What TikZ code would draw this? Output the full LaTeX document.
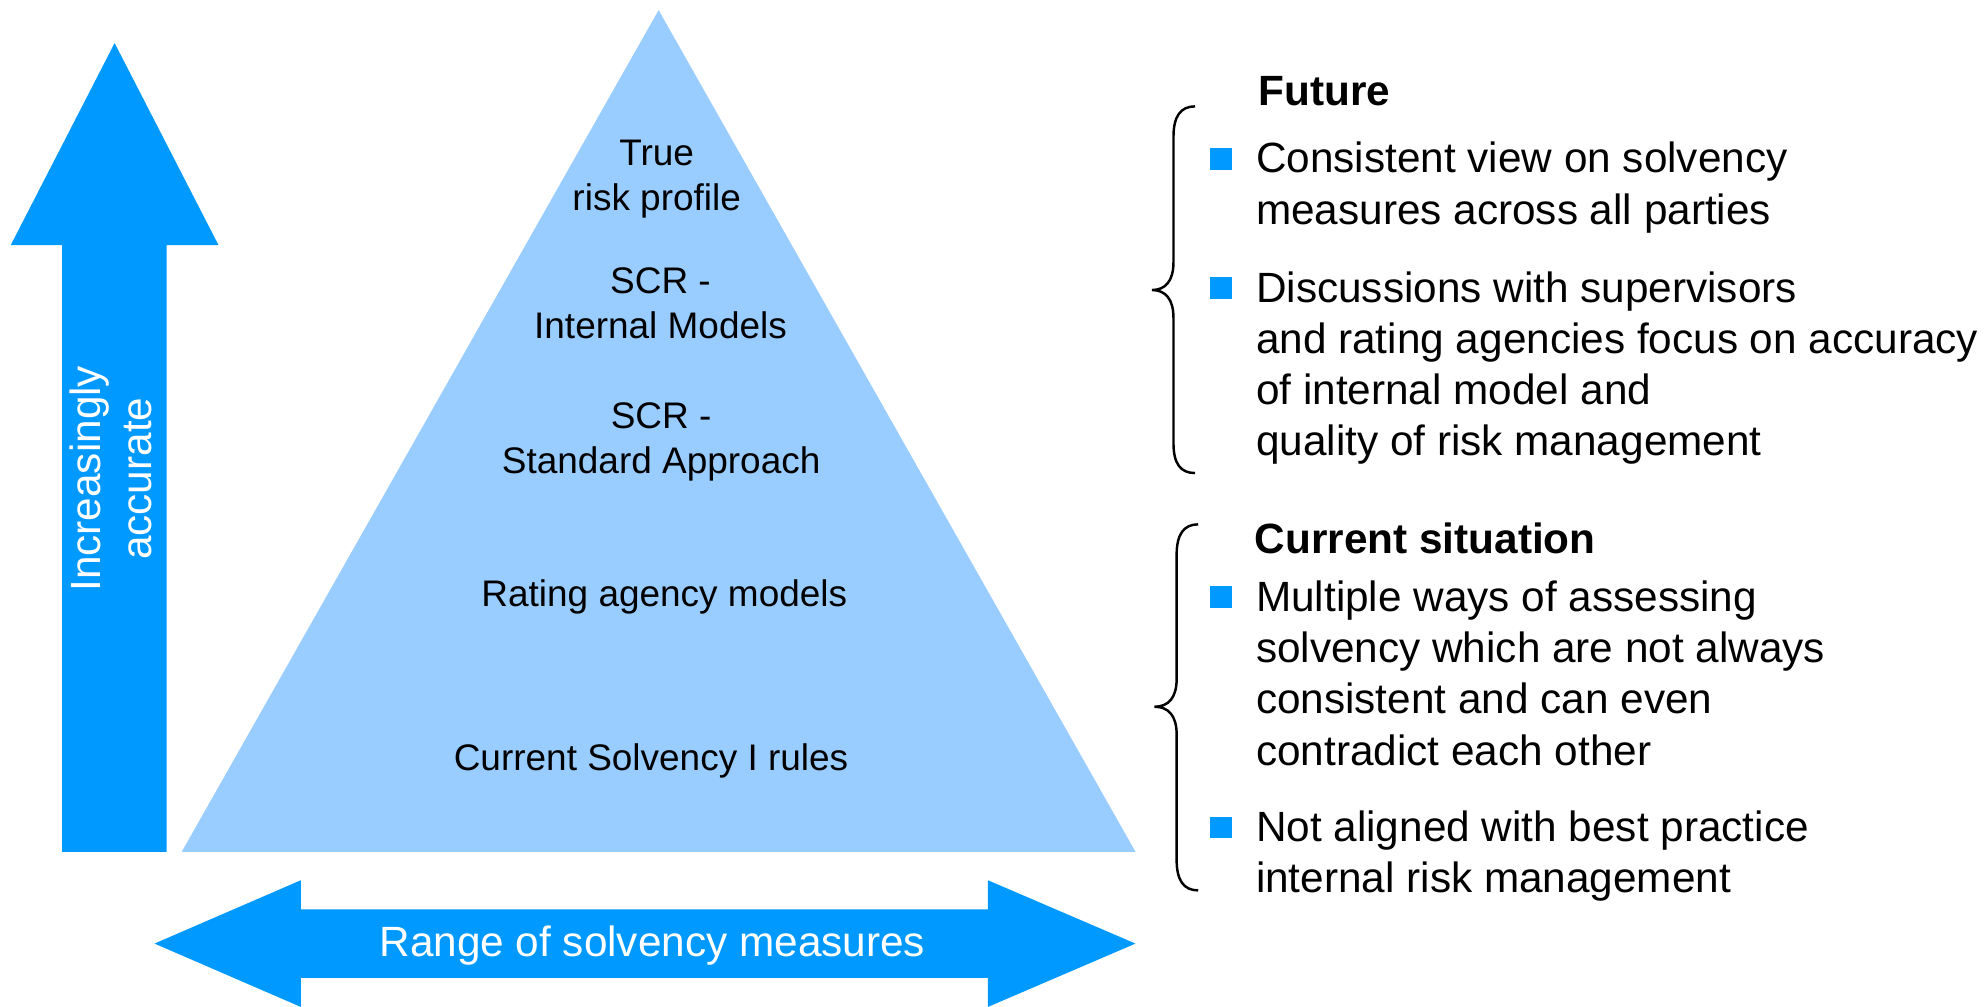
\documentclass[tikz,border=0pt]{standalone}
\usepackage{fontspec}
\setmainfont{Liberation Sans}
\usepackage{xcolor}

\definecolor{arrowblue}{RGB}{0,153,255}
\definecolor{pyramidblue}{RGB}{153,204,255}

\begin{document}
\begin{tikzpicture}[x=0.01cm,y=-0.01cm,
  txt/.style={font=\fontsize{9.5}{11.5}\selectfont,inner sep=0pt},
  lvl/.style={font=\fontsize{8.3}{10.1}\selectfont,align=center,inner sep=0pt,anchor=base},
  item/.style={txt,align=left,anchor=base west},
  head/.style={inner sep=0pt,font=\fontsize{9.5}{11.5}\selectfont\bfseries,anchor=base west},
  bullet/.style={fill=arrowblue,minimum size=0.17cm,inner sep=0pt},
  brace/.style={line width=0.55pt}]
  \useasboundingbox (0,0) rectangle (1568,795);
  % vertical arrow: accuracy (base = baseline of the last line)
  \fill[arrowblue] (90.5,34) -- (172.5,193.5) -- (131.5,193.5) -- (131.5,672.5)
    -- (49,672.5) -- (49,193.5) -- (8.5,193.5) -- cycle;
  \node[txt,white,align=center,rotate=90,anchor=base] (acc) at (119.5,378)
    {Increasingly\\accurate};
  % pyramid of solvency measures
  \fill[pyramidblue] (520,8) -- (896.5,672.5) -- (143.5,672.5) -- cycle;
  \node[lvl] (true) at (518.5,166.5) {True\\risk profile};
  \node[lvl] (scrim) at (521.5,267) {SCR -\\Internal Models};
  \node[lvl] (scrsa) at (522,374) {SCR -\\Standard Approach};
  \node[lvl] (rating) at (524.5,479) {Rating agency models};
  \node[lvl] (solv) at (514,608) {Current Solvency I rules};
  % horizontal double arrow: range
  \fill[arrowblue] (122,745) -- (237.5,695) -- (237.5,718) -- (780,718) -- (780,695)
    -- (896.5,745) -- (780,795) -- (780,772) -- (237.5,772) -- (237.5,795) -- cycle;
  \node[txt,white,anchor=base] (range) at (515,755) {Range of solvency measures};
  % future
  \draw[brace] (943.5,84) .. controls (932,84) and (926.5,92) .. (926.5,108)
    -- (926.5,207) .. controls (926.5,222) and (920,229) .. (909.5,229)
    .. controls (920,229) and (926.5,236) .. (926.5,251)
    -- (926.5,350) .. controls (926.5,366) and (932,373.5) .. (943.5,373.5);
  \node[head] (future) at (993,83) {Future};
  \node[bullet] (f1) at (964,125.5) {};
  \node[item] (f1txt) at (991,177) {Consistent view on solvency\\measures across all parties};
  \node[bullet] (f2) at (964,227.5) {};
  \node[item] (f2txt) at (991,360) {Discussions with supervisors\\and rating agencies focus on accuracy\\of internal model and\\quality of risk management};
  % current situation
  \draw[brace] (946,414) .. controls (934.5,414) and (929,422) .. (929,438)
    -- (929,536) .. controls (929,551) and (922.5,558) .. (911.5,558)
    .. controls (922.5,558) and (929,565) .. (929,580)
    -- (929,679) .. controls (929,695) and (934.5,703) .. (946,703);
  \node[head] (current) at (990,437) {Current situation};
  \node[bullet] (c1) at (964,471.5) {};
  \node[item] (c1txt) at (991,604) {Multiple ways of assessing\\solvency which are not always\\consistent and can even\\contradict each other};
  \node[bullet] (c2) at (964,653.5) {};
  \node[item] (c2txt) at (991,705) {Not aligned with best practice\\internal risk management};
\end{tikzpicture}
\end{document}
